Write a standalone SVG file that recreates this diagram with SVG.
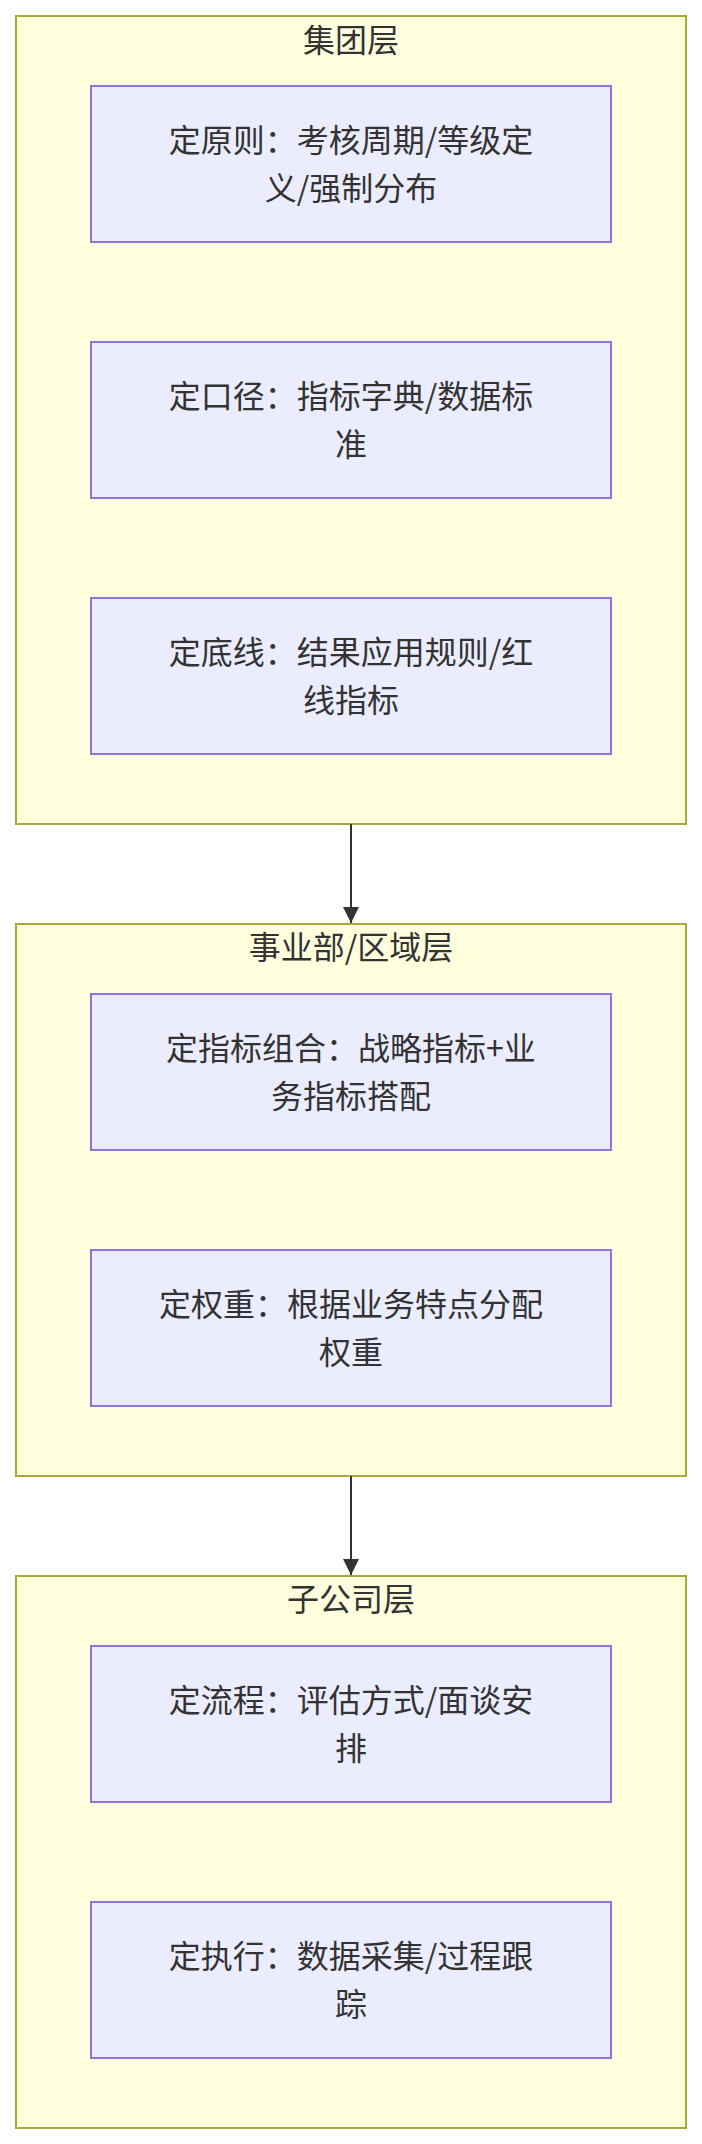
<svg xmlns="http://www.w3.org/2000/svg" width="702" height="2144" viewBox="0 0 702 2144">
<style>
.cluster{fill:#ffffde;stroke:#aaaa33;stroke-width:2}
.node{fill:#ECECFF;stroke:#9370DB;stroke-width:2}
text{font-family:"Noto Sans CJK SC","Noto Sans",sans-serif;font-size:32px;fill:#333333;text-anchor:middle}
.edge{stroke:#333333;stroke-width:2;fill:none}
</style>
<defs>
<marker id="arrow" viewBox="0 0 16 16" refX="16" refY="8" markerUnits="userSpaceOnUse" markerWidth="16" markerHeight="16" orient="auto">
<path d="M0,0 L16,8 L0,16 z" fill="#333333"/>
</marker>
</defs>
<rect width="702" height="2144" fill="#ffffff"/>
<g id="cluster-group">
<rect class="cluster" x="16" y="16" width="670" height="808"/>
<text x="351" y="52">集团层</text>
</g>
<g id="cluster-bu">
<rect class="cluster" x="16" y="924" width="670" height="552"/>
<text x="351" y="959">事业部/区域层</text>
</g>
<g id="cluster-sub">
<rect class="cluster" x="16" y="1576" width="670" height="552"/>
<text x="351" y="1611">子公司层</text>
</g>
<g id="n1">
<rect class="node" x="91" y="86" width="520" height="156"/>
<text x="351" y="152">定原则：考核周期/等级定</text>
<text x="351" y="200">义/强制分布</text>
</g>
<g id="n2">
<rect class="node" x="91" y="342" width="520" height="156"/>
<text x="351" y="408">定口径：指标字典/数据标</text>
<text x="351" y="456">准</text>
</g>
<g id="n3">
<rect class="node" x="91" y="598" width="520" height="156"/>
<text x="351" y="664">定底线：结果应用规则/红</text>
<text x="351" y="712">线指标</text>
</g>
<g id="n4">
<rect class="node" x="91" y="994" width="520" height="156"/>
<text x="351" y="1060">定指标组合：战略指标+业</text>
<text x="351" y="1108">务指标搭配</text>
</g>
<g id="n5">
<rect class="node" x="91" y="1250" width="520" height="156"/>
<text x="351" y="1316">定权重：根据业务特点分配</text>
<text x="351" y="1364">权重</text>
</g>
<g id="n6">
<rect class="node" x="91" y="1646" width="520" height="156"/>
<text x="351" y="1712">定流程：评估方式/面谈安</text>
<text x="351" y="1760">排</text>
</g>
<g id="n7">
<rect class="node" x="91" y="1902" width="520" height="156"/>
<text x="351" y="1968">定执行：数据采集/过程跟</text>
<text x="351" y="2016">踪</text>
</g>
<g id="connectors">
<path class="edge" d="M351,824 L351,923" marker-end="url(#arrow)"/>
<path class="edge" d="M351,1476 L351,1575" marker-end="url(#arrow)"/>
</g>
</svg>
